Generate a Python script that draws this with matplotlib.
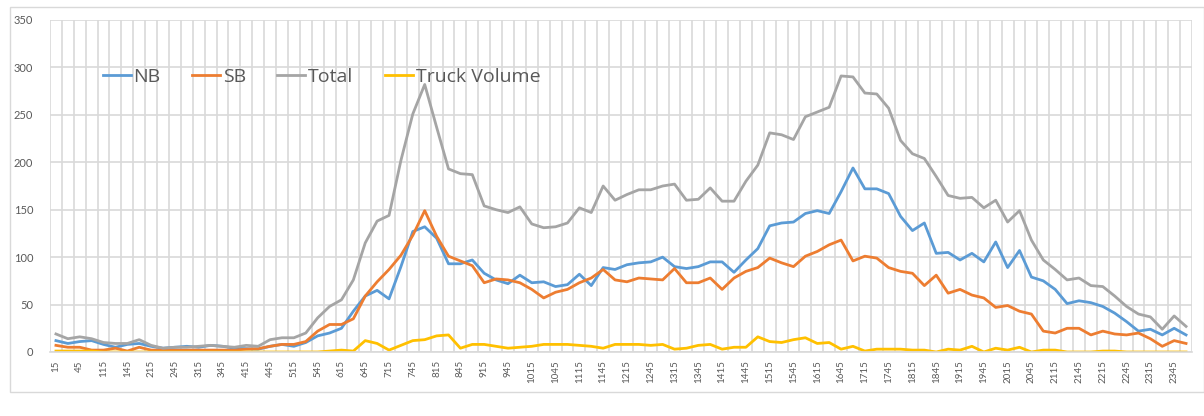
import numpy as np
import matplotlib
matplotlib.use("Agg")
import matplotlib.pyplot as plt
from matplotlib.patches import Rectangle

# intervalos de 15 minutos: 15, 30, 45, 100, ... 2345, 2400
horarios = []
for h in range(24):
    for m in (15, 30, 45):
        horarios.append(str(h * 100 + m))
    horarios.append(str((h + 1) * 100))

nb = [12, 9, 11, 12, 8, 5, 8, 9, 6, 4, 5, 6, 5, 7, 6, 4,
      3.5, 3, 6, 8, 6, 10, 17, 20, 25, 43, 59, 65, 56, 90, 127, 132,
      120, 93, 93, 97, 83, 76, 72, 81, 73, 74, 69, 71, 82, 70, 89, 87,
      92, 94, 95, 100, 90, 88, 90, 95, 95, 84, 97, 109, 133, 136, 137, 146,
      149, 146, 169, 194, 172, 172, 167, 143, 128, 136, 104, 105, 97, 104, 95, 116,
      89, 107, 79, 75, 66, 51, 54, 52, 48, 41, 32, 22, 24, 18, 25, 18]

sb = [7, 5, 5, 2, 2, 4, 1, 5, 2, 2, 2, 2, 2, 2, 2, 2,
      3, 3.5, 6, 8, 8, 11, 22, 29, 29, 35, 59, 74, 87, 102, 123, 149,
      122, 101, 96, 91, 73, 77, 76, 73, 66, 57, 63, 66, 73, 78, 87, 76,
      74, 78, 77, 76, 88, 73, 73, 78, 66, 78, 85, 89, 99, 94, 90, 101,
      106, 113, 118, 96, 101, 99, 89, 85, 83, 70, 81, 62, 66, 60, 57, 47,
      49, 43, 40, 22, 20, 25, 25, 18, 22, 19, 18, 20, 14, 6, 12, 9]

total = [19, 14, 16, 14, 10, 9, 9, 13, 7, 4, 5, 5, 6, 7, 6, 5,
         7, 6, 13, 15, 15, 20, 36, 48, 55, 76, 115, 138, 144, 202, 251, 282,
         237, 193, 188, 187, 154, 150, 147, 153, 135, 131, 132, 136, 152, 147, 175, 160,
         166, 171, 171, 175, 177, 160, 161, 173, 159, 159, 180, 197, 231, 229, 224, 248,
         253, 258, 291, 290, 273, 272, 257, 223, 209, 204, 185, 165, 162, 163, 152, 160,
         137, 149, 118, 97, 87, 76, 78, 70, 69, 59, 48, 40, 37, 24, 38, 27]

caminhoes = [1, 1, 1, 1, 0, 0, 0, 0, 0, 0, 0, 0, 0, 0, 0, 0,
             0, 0, 0, 0, 0, 0, 0, 1, 2, 1, 12, 9, 2, 7, 12, 13,
             17, 18, 4, 8, 8, 6, 4, 5, 6, 8, 8, 8, 7, 6, 4, 8,
             8, 8, 7, 8, 3, 4, 7, 8, 3, 5, 5, 16, 11, 10, 13, 15,
             9, 10, 3, 6, 1, 3, 3, 3, 2, 2, 0, 3, 2, 6, 0, 4,
             2, 5, 0, 2, 2, 0, 0, 0, 1, 1, 0, 0, 0, 0, 0, 0]

series = [("NB", nb, "#5B9BD5"),
          ("SB", sb, "#ED7D31"),
          ("Total", total, "#A5A5A5"),
          ("Truck Volume", caminhoes, "#FFC000")]

fig = plt.figure(figsize=(12.04, 4.16), dpi=100)
ax = fig.add_axes([50 / 1204, 1 - 352 / 416, 1142 / 1204, 332 / 416])

x = np.arange(len(horarios))
for nome, valores, cor in series:
    ax.plot(x, valores, color=cor, linewidth=2, label=nome)

ax.set_xlim(-0.5, len(horarios) - 0.5)
ax.set_ylim(0, 350)
ax.set_yticks(np.arange(0, 351, 50))
ax.set_xticks(x[::2])
ax.set_xticklabels(horarios[::2], rotation=90, fontsize=7, color="#595959",
                   family="Lato")
ax.set_xticks(np.arange(-0.5, len(horarios), 1), minor=True)
for lbl in ax.get_yticklabels():
    lbl.set_fontsize(8)
    lbl.set_color("#595959")
    lbl.set_family("Lato")

# grade clara no estilo do excel
ax.grid(axis="y", which="major", color="#D9D9D9", linewidth=1.2)
ax.grid(axis="x", which="minor", color="#D9D9D9", linewidth=1.2)
ax.set_axisbelow(True)
ax.tick_params(axis="both", which="both", length=0)
ax.tick_params(axis="y", pad=12)
ax.tick_params(axis="x", pad=6)
for lado in ("top", "right", "left"):
    ax.spines[lado].set_visible(False)
ax.spines["bottom"].set_color("#D9D9D9")
ax.spines["bottom"].set_linewidth(1.2)

fig.legend(loc="center left", bbox_to_anchor=(85 / 1204, 1 - 77 / 416), ncol=4,
           frameon=False, handlelength=1.45, handletextpad=0.15, columnspacing=1.6,
           prop={"family": "Open Sans", "size": 14}, labelcolor="#595959")

# moldura do gráfico
fig.patches.append(Rectangle((10 / 1204, 1 - 392 / 416), 1 - 10 / 1204, 385 / 416,
                             transform=fig.transFigure, fill=False,
                             edgecolor="#D9D9D9", linewidth=1))

fig.savefig("out.png", dpi=100)
